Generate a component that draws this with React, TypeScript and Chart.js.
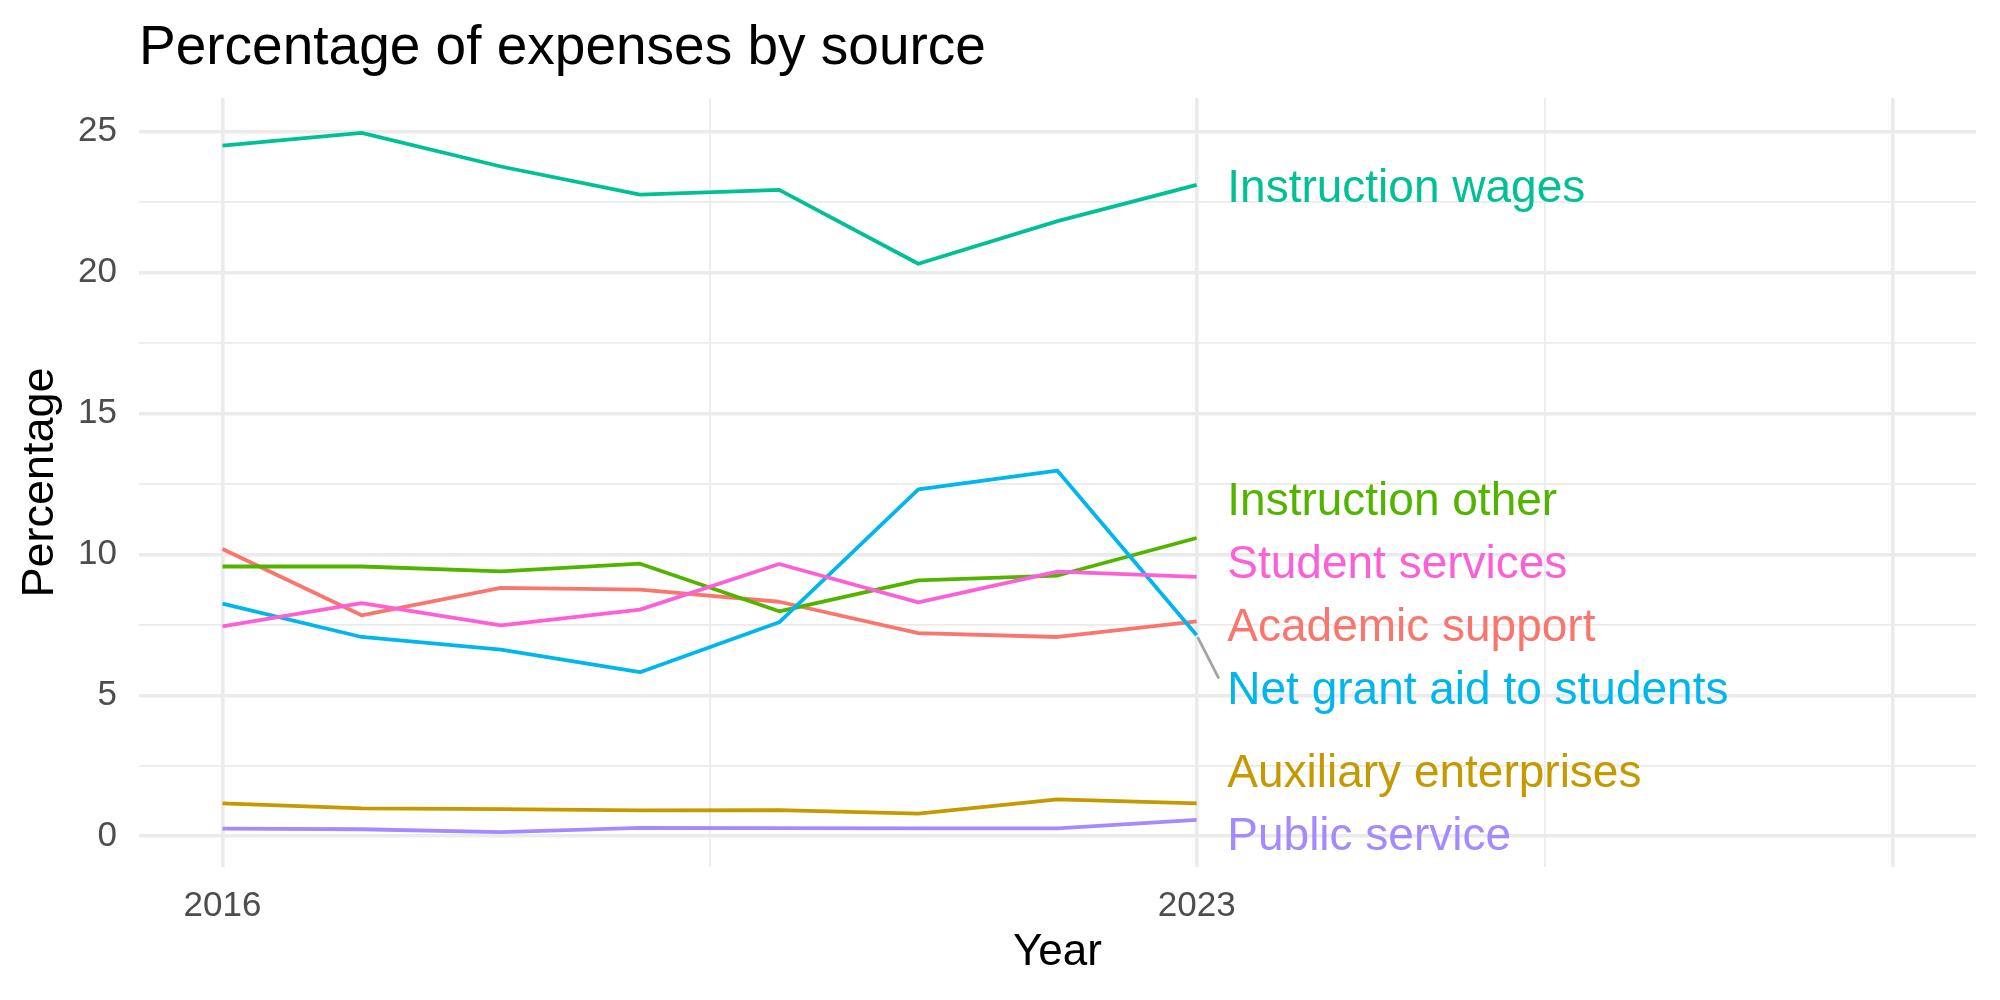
import React, { useEffect, useRef } from "react";
import { Chart, registerables } from "chart.js";

Chart.register(...registerables);

// Expense shares by source, fiscal years 2016–2023 (percent of total expenses)
const years = [2016, 2017, 2018, 2019, 2020, 2021, 2022, 2023];
const seriesNames = [
  "Academic support",
  "Auxiliary enterprises",
  "Instruction other",
  "Instruction wages",
  "Net grant aid to students",
  "Public service",
  "Student services",
];
const academicSupport = [10.19, 7.84, 8.81, 8.75, 8.32, 7.21, 7.07, 7.62];
const auxiliaryEnterprises = [1.17, 0.99, 0.96, 0.92, 0.93, 0.8, 1.31, 1.17];
const instructionOther = [9.57, 9.57, 9.4, 9.67, 7.98, 9.08, 9.25, 10.58];
const instructionWages = [24.5, 24.95, 23.76, 22.76, 22.93, 20.31, 21.82, 23.11];
const netGrantAid = [8.25, 7.07, 6.62, 5.82, 7.59, 12.31, 12.97, 7.13];
const publicService = [0.27, 0.25, 0.15, 0.3, 0.29, 0.28, 0.28, 0.58];
const studentServices = [7.45, 8.27, 7.48, 8.04, 9.66, 8.3, 9.39, 9.2];

const xBreaks = [2016, 2023, 2028];
const xTickLabels = ["2016", "2023", ""];
const yBreaks = [0, 5, 10, 15, 20, 25];
const yTickLabels = ["0", "5", "10", "15", "20", "25"];

const seriesValues = [
  academicSupport,
  auxiliaryEnterprises,
  instructionOther,
  instructionWages,
  netGrantAid,
  publicService,
  studentServices,
];
const seriesColors = ["#F8766D", "#C49A00", "#53B400", "#00C094", "#00B6EB", "#A58AFF", "#FB61D7"];

const FONT = "'Liberation Sans', Arial, Helvetica, sans-serif";
const TITLE = "Percentage of expenses by source";
const GRID = "#EBEBEB";
const LABEL_NUDGE = 0.22; // years to the right of the last point
const LABEL_GAP = 63; // minimum vertical spacing between end labels, px
const LABEL_HALF = 34; // half label height incl. padding, keeps labels inside the panel
const LABEL_BASELINE_SHIFT = 4; // centres the capitals, not the em box, on the label position

// x limits span the breaks, y limits span the data; both padded by 5%
const xLo = xBreaks[0];
const xHi = xBreaks[xBreaks.length - 1];
const xPad = (xHi - xLo) * 0.05;
const allValues = seriesValues.flat();
const yLo = Math.min(...allValues);
const yHi = Math.max(...allValues);
const yPad = (yHi - yLo) * 0.05;

const midpoints = (b: number[]) => b.slice(1).map((v, i) => (v + b[i]) / 2);
const xGridValues = [...xBreaks, ...midpoints(xBreaks)].sort((a, b) => a - b);
const yGridValues = [...yBreaks, ...midpoints(yBreaks)].sort((a, b) => a - b);

// Push overlapping label positions apart, keeping each cluster centred on its points,
// then keep the lowest labels inside the panel.
function repel(ys: number[], gap: number, maxY: number): number[] {
  const order = ys.map((v, i) => i).sort((a, b) => ys[a] - ys[b]);
  let clusters = order.map((i) => ({ members: [i], center: ys[i] }));
  let merged = true;
  while (merged) {
    merged = false;
    for (let k = 0; k < clusters.length - 1; k++) {
      const a = clusters[k];
      const b = clusters[k + 1];
      const aBottom = a.center + (gap * (a.members.length - 1)) / 2;
      const bTop = b.center - (gap * (b.members.length - 1)) / 2;
      if (bTop - aBottom < gap) {
        const members = [...a.members, ...b.members];
        const center = members.reduce((s, i) => s + ys[i], 0) / members.length;
        clusters.splice(k, 2, { members, center });
        merged = true;
        break;
      }
    }
  }
  const out = new Array(ys.length).fill(0);
  clusters.forEach((c) => {
    const n = c.members.length;
    c.members.forEach((idx, j) => {
      out[idx] = c.center + gap * (j - (n - 1) / 2);
    });
  });
  for (let k = order.length - 1; k >= 0; k--) {
    const idx = order[k];
    const limit = k === order.length - 1 ? maxY : out[order[k + 1]] - gap;
    out[idx] = Math.min(out[idx], limit);
  }
  return out;
}

const annotations = {
  id: "annotations",
  afterDraw(chart: any) {
    const { ctx, chartArea, scales } = chart;
    const xs = scales.x;
    const ys = scales.y;
    ctx.save();

    // plot title
    ctx.font = `55px ${FONT}`;
    ctx.fillStyle = "#000000";
    ctx.textAlign = "left";
    ctx.textBaseline = "alphabetic";
    ctx.fillText(TITLE, chartArea.left, chartArea.top - 34);

    // series labels at the line ends
    const last = years.length - 1;
    const px = xs.getPixelForValue(years[last]);
    const lx = xs.getPixelForValue(years[last] + LABEL_NUDGE);
    const pointYs = seriesValues.map((s) => ys.getPixelForValue(s[last]));
    const labelYs = repel(pointYs, LABEL_GAP, chartArea.bottom - LABEL_HALF);

    seriesNames.forEach((name, i) => {
      const py = pointYs[i];
      const ly = labelYs[i];
      if (Math.abs(ly - py) > 45) {
        const ex = lx - 9;
        const ey = ly + (ly > py ? -10 : 10);
        const dx = ex - px;
        const dy = ey - py;
        const len = Math.hypot(dx, dy);
        ctx.beginPath();
        ctx.moveTo(px + (dx / len) * 3, py + (dy / len) * 3);
        ctx.lineTo(ex, ey);
        ctx.strokeStyle = "#A3A3A3";
        ctx.lineWidth = 2.8;
        ctx.lineCap = "round";
        ctx.stroke();
      }
      ctx.font = `46px ${FONT}`;
      ctx.fillStyle = seriesColors[i];
      ctx.textAlign = "left";
      ctx.textBaseline = "middle";
      ctx.fillText(name, lx, ly + LABEL_BASELINE_SHIFT);
    });
    ctx.restore();
  },
};

export default function App() {
  const canvasRef = useRef<HTMLCanvasElement | null>(null);

  useEffect(() => {
    const canvas = canvasRef.current;
    if (!canvas) return;
    const n = seriesNames.length;
    const chart = new Chart(canvas, {
      type: "line",
      data: {
        datasets: seriesNames.map((name, i) => ({
          label: name,
          data: years.map((yr, k) => ({ x: yr, y: seriesValues[i][k] })),
          borderColor: seriesColors[i],
          backgroundColor: seriesColors[i],
          borderWidth: 3.8,
          borderJoinStyle: "round",
          borderCapStyle: "butt",
          pointRadius: 0,
          pointHoverRadius: 0,
          tension: 0,
          fill: false,
          order: n - i,
        })),
      },
      options: {
        animation: false,
        responsive: false,
        devicePixelRatio: 1,
        events: [],
        layout: { padding: { top: 98, right: 24, bottom: 0, left: 0 } },
        plugins: {
          legend: { display: false },
          tooltip: { enabled: false },
          title: { display: false },
        },
        scales: {
          x: {
            type: "linear",
            position: "bottom",
            min: xLo - xPad,
            max: xHi + xPad,
            afterBuildTicks: (scale: any) => {
              scale.ticks = xGridValues.map((v) => ({ value: v }));
            },
            afterFit: (scale: any) => {
              scale.height = 133;
            },
            border: { display: false },
            grid: {
              drawTicks: false,
              color: GRID,
              lineWidth: (c: any) => (xBreaks.includes(c.tick?.value) ? 3.6 : 1.8),
            },
            ticks: {
              autoSkip: false,
              maxRotation: 0,
              padding: 18,
              color: "#4D4D4D",
              font: { family: FONT, size: 35 },
              callback: (value: any) => {
                const idx = xBreaks.indexOf(Number(value));
                return idx >= 0 ? xTickLabels[idx] : "";
              },
            },
            title: {
              display: true,
              text: "Year",
              color: "#000000",
              font: { family: FONT, size: 44 },
              padding: { top: 0, bottom: 21 },
            },
          },
          y: {
            type: "linear",
            position: "left",
            min: yLo - yPad,
            max: yHi + yPad,
            afterBuildTicks: (scale: any) => {
              scale.ticks = yGridValues.map((v) => ({ value: v }));
            },
            afterFit: (scale: any) => {
              scale.width = 139;
            },
            border: { display: false },
            grid: {
              drawTicks: false,
              color: GRID,
              lineWidth: (c: any) => (yBreaks.includes(c.tick?.value) ? 3.6 : 1.8),
            },
            ticks: {
              autoSkip: false,
              padding: 22,
              color: "#4D4D4D",
              font: { family: FONT, size: 35 },
              callback: (value: any) => {
                const idx = yBreaks.indexOf(Number(value));
                return idx >= 0 ? yTickLabels[idx] : "";
              },
            },
            title: {
              display: true,
              text: "Percentage",
              color: "#000000",
              font: { family: FONT, size: 45 },
              padding: { top: 14, bottom: 0 },
            },
          },
        },
      },
      plugins: [annotations],
    } as any);
    return () => chart.destroy();
  }, []);

  return (
    <div style={{ position: "fixed", left: 0, top: 0, width: 2000, height: 1000, background: "#ffffff" }}>
      <canvas ref={canvasRef} width={2000} height={1000} style={{ display: "block" }} />
    </div>
  );
}
